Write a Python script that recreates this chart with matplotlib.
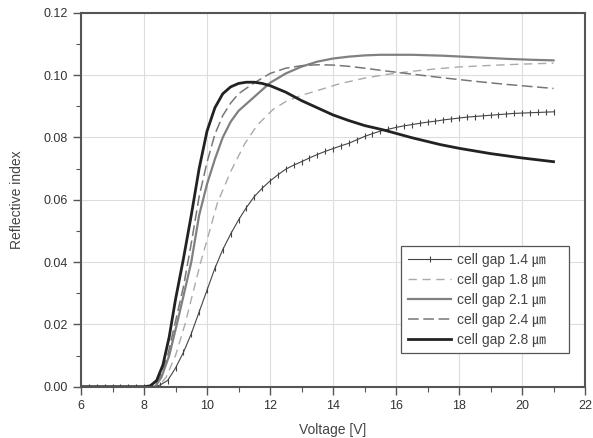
import matplotlib
matplotlib.use("Agg")
import matplotlib.pyplot as plt
from matplotlib.ticker import MultipleLocator, FormatStrFormatter

# readings: voltage [V] -> reflective index
v14 = [6.0, 6.25, 6.5, 6.75, 7.0, 7.25, 7.5, 7.75, 8.0, 8.25, 8.5, 8.75, 9.0, 9.25, 9.5,
       9.75, 10.0, 10.25, 10.5, 10.75, 11.0, 11.25, 11.5, 11.75, 12.0, 12.25, 12.5, 12.75,
       13.0, 13.25, 13.5, 13.75, 14.0, 14.25, 14.5, 14.75, 15.0, 15.25, 15.5, 15.75, 16.0,
       16.25, 16.5, 16.75, 17.0, 17.25, 17.5, 17.75, 18.0, 18.25, 18.5, 18.75, 19.0, 19.25,
       19.5, 19.75, 20.0, 20.25, 20.5, 20.75, 21.0]
r14 = [0.0, 0.0, 0.0, 0.0, 0.0, 0.0, 0.0, 0.0, 0.0, 0.0, 0.0005, 0.002, 0.006, 0.011,
       0.017, 0.024, 0.031, 0.038, 0.044, 0.049, 0.0535, 0.0575, 0.061, 0.0637, 0.066,
       0.068, 0.0698, 0.0711, 0.0722, 0.0734, 0.0745, 0.0755, 0.0764, 0.0773, 0.0781,
       0.0792, 0.0803, 0.0812, 0.082, 0.0826, 0.0832, 0.0837, 0.0841, 0.0845, 0.0849,
       0.0852, 0.0856, 0.0859, 0.0862, 0.0865, 0.0867, 0.0869, 0.0871, 0.0873, 0.0875,
       0.0877, 0.0878, 0.0879, 0.088, 0.0881, 0.0882]

v18 = [6.0, 8.45, 8.7, 9.0, 9.3, 9.55, 9.8, 10.0, 10.33, 10.75, 11.2, 11.6, 12.1, 12.5,
       13.0, 13.5, 14.2, 15.0, 15.7, 16.5, 17.3, 18.0, 19.0, 20.0, 21.0]
r18 = [0.0, 0.0, 0.003, 0.01, 0.02, 0.03, 0.04, 0.047, 0.059, 0.069, 0.078, 0.084, 0.089,
       0.0915, 0.0935, 0.095, 0.0972, 0.099, 0.1002, 0.1012, 0.102, 0.1026, 0.1031,
       0.1035, 0.1038]

v21 = [6.0, 8.35, 8.55, 8.8, 9.04, 9.25, 9.5, 9.75, 10.0, 10.25, 10.5, 10.75, 11.0, 11.5,
       12.0, 12.5, 13.0, 13.5, 14.0, 14.5, 15.0, 15.5, 16.5, 17.5, 18.5, 19.5, 20.3, 21.0]
r21 = [0.0, 0.0, 0.003, 0.01, 0.02, 0.029, 0.04, 0.055, 0.065, 0.073, 0.08, 0.085,
       0.0885, 0.093, 0.0975, 0.1005, 0.1027, 0.1043, 0.1053, 0.1059, 0.1063, 0.1065,
       0.1065, 0.1062, 0.1057, 0.1052, 0.1049, 0.1047]

v24 = [6.0, 8.3, 8.5, 8.75, 9.0, 9.25, 9.5, 9.75, 10.0, 10.25, 10.5, 10.75, 11.0, 11.5,
       12.0, 12.5, 13.0, 13.5, 14.0, 14.5, 15.0, 15.6, 16.5, 17.5, 18.5, 19.5, 20.3, 21.0]
r24 = [0.0, 0.0, 0.003, 0.01, 0.021, 0.032, 0.046, 0.061, 0.072, 0.081, 0.087, 0.091,
       0.094, 0.0975, 0.1005, 0.1022, 0.103, 0.1033, 0.1032, 0.1028, 0.1022, 0.1014,
       0.1003, 0.0991, 0.098, 0.097, 0.0963, 0.0957]

v28 = [6.0, 8.0, 8.2, 8.4, 8.6, 8.8, 9.0, 9.25, 9.5, 9.75, 10.0, 10.25, 10.5, 10.75, 11.0,
       11.25, 11.5, 11.75, 12.0, 12.5, 13.0, 13.5, 14.0, 14.5, 15.0, 15.6, 16.5, 17.4,
       18.0, 19.0, 20.0, 21.0]
r28 = [0.0, 0.0, 0.0003, 0.002, 0.007, 0.016, 0.028, 0.041, 0.055, 0.07, 0.082, 0.0895,
       0.094, 0.0962, 0.0973, 0.0977, 0.0977, 0.0973, 0.0966, 0.0945, 0.0918, 0.0895,
       0.0872, 0.0854, 0.0838, 0.0824, 0.0799, 0.0777, 0.0765, 0.0748, 0.0734, 0.0722]

labels = ["cell gap 1.4 \u339b", "cell gap 1.8 \u339b", "cell gap 2.1 \u339b",
          "cell gap 2.4 \u339b", "cell gap 2.8 \u339b"]

plt.rcParams["font.family"] = ["Liberation Sans", "Noto Sans CJK KR", "DejaVu Sans"]

fig = plt.figure(figsize=(5.93, 4.38), dpi=100)
ax = fig.add_axes([0.1366, 0.117, 0.85, 0.854])

ax.plot(v14, r14, color="#444444", lw=0.8, marker="|", ms=4, mew=0.8, label=labels[0])
ax.plot(v18, r18, color="#aaaaaa", lw=1.0, dashes=(6, 4), label=labels[1])
ax.plot(v21, r21, color="#808080", lw=1.6, label=labels[2])
ax.plot(v24, r24, color="#777777", lw=1.1, dashes=(7, 3), label=labels[3])
ax.plot(v28, r28, color="#222222", lw=2.0, label=labels[4])

ax.set_xlim(6, 22)
ax.set_ylim(0, 0.12)
ax.xaxis.set_major_locator(MultipleLocator(2))
ax.xaxis.set_minor_locator(MultipleLocator(1))
ax.yaxis.set_major_locator(MultipleLocator(0.02))
ax.yaxis.set_minor_locator(MultipleLocator(0.01))
ax.yaxis.set_major_formatter(FormatStrFormatter("%.2f"))
ax.grid(True, which="major", color="#dddddd", lw=0.8)
ax.set_axisbelow(True)
for s in ax.spines.values():
    s.set_color("#555555")
    s.set_linewidth(1.5)
ax.tick_params(which="major", length=6, width=1.0, color="#555555", labelsize=9,
               labelcolor="#333333", direction="out")
ax.tick_params(which="minor", length=3.5, width=0.8, color="#555555", direction="out")

ax.set_xlabel("Voltage [V]", fontsize=10, color="#444444", labelpad=8)
ax.set_ylabel("Reflective index", fontsize=10, color="#444444", labelpad=14)

leg = ax.legend(loc="lower left", bbox_to_anchor=(0.635, 0.089, 0.333, 0.298),
                mode="expand", fontsize=10, handlelength=3.1, handletextpad=0.4,
                labelspacing=0.42, borderaxespad=0, fancybox=False, framealpha=1,
                edgecolor="#555555", borderpad=0.5)
leg.get_frame().set_linewidth(0.9)
for t in leg.get_texts():
    t.set_color("#444444")

fig.savefig("out.png", dpi=100)
